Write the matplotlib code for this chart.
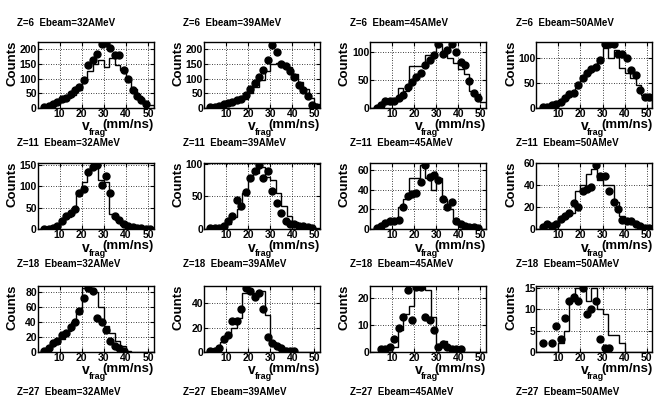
import numpy as np
import matplotlib
matplotlib.use("Agg")
import matplotlib.pyplot as plt

plt.rcParams['font.family'] = ['Liberation Sans', 'DejaVu Sans']
plt.rcParams['font.weight'] = 'bold'

charges = [6, 11, 18, 27]
energies = [32, 39, 45, 50]

# histogram bins (mm/ns) shared by all panels
hist_edges = np.arange(0, 55, 2.5)
# dot positions (mm/ns)
dot_x = np.arange(3, 53, 2)

# ---- Z=6 ----
z6_32_dots = [2, 6, 14, 22, 29, 35, 48, 63, 70, 95, 145, 165, 185, 217, 220, 205, 182, 180, 130, 100, 62, 42, 27, 12, np.nan]
z6_32_hist = [0, 2, 8, 15, 25, 33, 45, 60, 95, 125, 150, 165, 140, 170, 145, 130, 95, 65, 40, 22, 10]
z6_39_dots = [2, 4, 8, 12, 17, 22, 27, 32, 45, 65, 85, 105, 130, 165, 215, 190, 150, 143, 126, 105, 80, 60, 40, 11, 5]
z6_39_hist = [0, 2, 5, 10, 15, 20, 25, 32, 50, 70, 95, 125, 150, 155, 145, 140, 115, 90, 65, 35, 12]
z6_45_dots = [0, 5, 12, 12, 13, 18, 24, 38, 47, 55, 62, 76, 86, 94, 115, 97, 103, 115, 100, 82, 76, 48, 27, 18, np.nan]
z6_45_hist = [0, 0, 10, 8, 12, 35, 30, 75, 75, 75, 95, 95, 115, 100, 90, 80, 70, 60, 30, 25, 10]
z6_50_dots = [1, 2, 5, 8, 12, 20, 27, 30, 45, 60, 70, 78, 82, 95, 128, 128, 128, 108, 108, 100, 75, 65, 35, 22, 22]
z6_50_hist = [0, 1, 3, 7, 12, 20, 28, 40, 55, 70, 80, 95, 120, 100, 115, 80, 70, 60, 45, 25, 15]

# ---- Z=11 ----
z11_32_dots = [0, 1, 3, 8, 18, 30, 38, 48, 85, 95, 135, 145, 150, 103, 125, 85, 30, 20, 12, 8, 5, 3, 2, 1, 0]
z11_32_hist = [0, 0, 2, 5, 15, 28, 45, 90, 110, 140, 150, 115, 110, 35, 20, 10, 6, 4, 2, 1, 0]
z11_39_dots = [1, 1, 2, 5, 12, 20, 45, 35, 57, 78, 88, 98, 78, 88, 58, 40, 25, 12, 8, 8, 5, 5, 3, 1, np.nan]
z11_39_hist = [0, 0, 1, 3, 8, 18, 30, 55, 75, 85, 95, 80, 75, 55, 35, 20, 10, 6, 4, 2, 1]
z11_45_dots = [1, 3, 6, 8, 8, 9, 22, 33, 36, 37, 48, 65, 53, 55, 50, 30, 22, 27, 8, 5, 3, 2, 2, 1, np.nan]
z11_45_hist = [0, 1, 3, 5, 8, 22, 30, 52, 52, 65, 52, 40, 52, 30, 20, 10, 5, 3, 2, 1, 0]
z11_50_dots = [2, 5, 3, 5, 9, 12, 15, 24, 20, 35, 36, 38, 58, 48, 48, 35, 25, 18, 8, 7, 7, 5, 3, 1, 1]
z11_50_hist = [0, 2, 3, 5, 8, 12, 15, 35, 40, 50, 55, 45, 40, 40, 25, 12, 8, 6, 4, 2, 1]

# ---- Z=18 ----
z18_32_dots = [1, 5, 12, 15, 23, 25, 33, 40, 55, 72, 85, 82, 45, 40, 30, 15, 8, 5, 2, np.nan, np.nan, np.nan, np.nan, np.nan, np.nan]
z18_32_hist = [0, 2, 8, 12, 18, 28, 40, 55, 85, 85, 80, 60, 35, 25, 15, 8, 2, 0, 0, 0, 0]
z18_39_dots = [1, 1, 3, 11, 14, 25, 25, 35, 52, 50, 45, 48, 35, 12, 7, 5, 3, 1, 0.5, 0.5, np.nan, np.nan, np.nan, np.nan, np.nan]
z18_39_hist = [0, 0, 2, 8, 12, 20, 28, 48, 50, 48, 50, 30, 8, 6, 3, 1, 0, 0, 0, 0, 0]
z18_45_dots = [np.nan, 1, 1, 2, 5, 9, 13, 23, 12, 24, 24, 13, 12, 8, 2, 3, 2, 1, 1, 1, np.nan, np.nan, np.nan, np.nan, np.nan]
z18_45_hist = [0, 0, 0, 0, 2, 8, 14, 17, 24, 24, 23, 13, 2, 4, 2, 1, 0, 0, 0, 0, 0]
z18_50_dots = [2, np.nan, 2, 6, 3, 8, 12, 13, 12, 15, 9, 10, 12, 3, 1, 1, np.nan, np.nan, np.nan, np.nan, np.nan, np.nan, np.nan, np.nan, np.nan]
z18_50_hist = [0, 0, 0, 0, 2, 5, 12, 15, 15, 12, 15, 10, 9, 4, 4, 2, 0, 0, 0, 0, 0]

dots = [[z6_32_dots, z6_39_dots, z6_45_dots, z6_50_dots],
        [z11_32_dots, z11_39_dots, z11_45_dots, z11_50_dots],
        [z18_32_dots, z18_39_dots, z18_45_dots, z18_50_dots]]
hists = [[z6_32_hist, z6_39_hist, z6_45_hist, z6_50_hist],
         [z11_32_hist, z11_39_hist, z11_45_hist, z11_50_hist],
         [z18_32_hist, z18_39_hist, z18_45_hist, z18_50_hist]]
y_max = [[225, 225, 118, 131],
         [155, 101, 67, 60],
         [88, 54, 24.5, 15.5]]
y_ticks = [[[0, 50, 100, 150, 200], [0, 50, 100, 150, 200], [0, 50, 100], [0, 50, 100]],
           [[0, 50, 100, 150], [0, 50, 100], [0, 20, 40, 60], [0, 20, 40, 60]],
           [[0, 20, 40, 60, 80], [0, 20, 40], [0, 10, 20], [0, 5, 10, 15]]]

W, H = 665, 399
fig = plt.figure(figsize=(W / 100, H / 100), dpi=100)

col_w = W / 4
row_tops = [42, 163, 286]
title_y = [23, 143, 264, 392]
ax_w, ax_h = 116, 66


def fx(px):
    return px / W


def fy(py):
    return 1 - py / H


for r in range(3):
    for c in range(4):
        left = c * col_w + 37.5
        top = row_tops[r]
        bottom = top + ax_h
        ax = fig.add_axes([fx(left), fy(bottom), ax_w / W, ax_h / H])
        ax.stairs(hists[r][c], hist_edges, color='black', lw=1.0)
        ax.plot(dot_x, dots[r][c], 'o', color='black', ms=5)
        ax.set_xlim(0, 52.5)
        ax.set_ylim(0, y_max[r][c])
        ax.set_xticks([10, 20, 30, 40, 50])
        ax.set_yticks(y_ticks[r][c])
        ax.grid(True, color='black', linestyle=(0, (1, 2)), lw=0.6)
        ax.tick_params(direction='in', length=3, top=True, right=True,
                       labelsize=7.5, pad=0.5)
        for lab in ax.get_xticklabels() + ax.get_yticklabels():
            lab.set_fontweight('bold')
        for s in ax.spines.values():
            s.set_linewidth(1.0)

        # axis titles
        fig.text(fx(left + ax_w), fy(bottom + 17), '(mm/ns)', ha='right', va='center',
                 fontsize=9.5, fontweight='bold')
        fig.text(fx(left + 48.5), fy(bottom + 18.5), 'v', ha='center', va='center',
                 fontsize=10, fontweight='bold')
        fig.text(fx(left + 51), fy(bottom + 24.5), 'frag', ha='left', va='center',
                 fontsize=6.5, fontweight='bold')
        fig.text(fx(left - 25), fy(top - 1), 'Counts', rotation=90,
                 ha='center', va='top', fontsize=9.5, fontweight='bold')

for r, z in enumerate(charges):
    for c, e in enumerate(energies):
        fig.text(fx(c * col_w + 17), fy(title_y[r]),
                 f'Z={z}  Ebeam={e}AMeV', ha='left', va='center',
                 fontsize=7, fontweight='bold')

fig.savefig('out.png', dpi=100, facecolor='white')
